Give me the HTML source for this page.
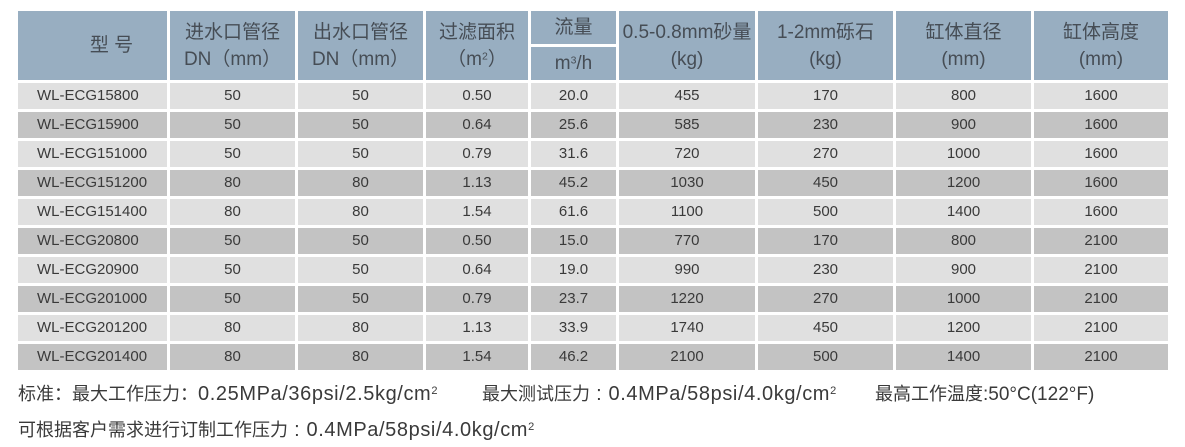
<!DOCTYPE html>
<html><head><meta charset="utf-8">
<style>
html,body{margin:0;padding:0;background:#fff;}
body{width:1185px;height:447px;position:relative;overflow:hidden;font-family:"Liberation Sans","Noto Sans CJK SC",sans-serif;}
.c{position:absolute;display:flex;align-items:center;justify-content:center;text-align:center;box-sizing:border-box;}
.c>span{display:block;}
.h{background:#98aec1;color:#464d55;font-size:19px;line-height:27px;}
.l{background:#e0e0e0;color:#3a3a3a;font-size:15px;}
.d{background:#c3c3c3;color:#3a3a3a;font-size:15px;}
.m{justify-content:flex-start;padding-left:19px;}
.f{position:absolute;font-size:18px;color:#3a3a3a;white-space:nowrap;line-height:22px;}
.f .lt{font-size:20px;letter-spacing:0.6px;}
sup{font-size:0.55em;vertical-align:0.55em;line-height:0;position:static;}
</style></head><body>
<div class="c h" style="left:18px;top:11px;width:149px;height:69px;padding-left:38px;"><span>型&nbsp;号</span></div>
<div class="c h" style="left:170px;top:11px;width:125px;height:69px;"><span>进水口管径<br>DN（mm）</span></div>
<div class="c h" style="left:298px;top:11px;width:125px;height:69px;"><span>出水口管径<br>DN（mm）</span></div>
<div class="c h" style="left:426px;top:11px;width:102px;height:69px;"><span>过滤面积<br>（m<sup>2</sup>）</span></div>
<div class="c h" style="left:531px;top:11px;width:85px;height:33px;"><span>流量</span></div>
<div class="c h" style="left:531px;top:46.5px;width:85px;height:33.5px;"><span>m<sup>3</sup>/h</span></div>
<div class="c h" style="left:619px;top:11px;width:136px;height:69px;"><span>0.5-0.8mm砂量<br>(kg)</span></div>
<div class="c h" style="left:758px;top:11px;width:135px;height:69px;"><span>1-2mm砾石<br>(kg)</span></div>
<div class="c h" style="left:896px;top:11px;width:135px;height:69px;"><span>缸体直径<br>(mm)</span></div>
<div class="c h" style="left:1034px;top:11px;width:134px;height:69px;"><span>缸体高度<br>(mm)</span></div>

<!-- rows -->
<div class="c l m" style="left:18px;top:82.5px;width:149px;height:26.5px;">WL-ECG15800</div><div class="c l" style="left:170px;top:82.5px;width:125px;height:26.5px;">50</div><div class="c l" style="left:298px;top:82.5px;width:125px;height:26.5px;">50</div><div class="c l" style="left:426px;top:82.5px;width:102px;height:26.5px;">0.50</div><div class="c l" style="left:531px;top:82.5px;width:85px;height:26.5px;">20.0</div><div class="c l" style="left:619px;top:82.5px;width:136px;height:26.5px;">455</div><div class="c l" style="left:758px;top:82.5px;width:135px;height:26.5px;">170</div><div class="c l" style="left:896px;top:82.5px;width:135px;height:26.5px;">800</div><div class="c l" style="left:1034px;top:82.5px;width:134px;height:26.5px;">1600</div>

<div class="c d m" style="left:18px;top:111.5px;width:149px;height:26.5px;">WL-ECG15900</div><div class="c d" style="left:170px;top:111.5px;width:125px;height:26.5px;">50</div><div class="c d" style="left:298px;top:111.5px;width:125px;height:26.5px;">50</div><div class="c d" style="left:426px;top:111.5px;width:102px;height:26.5px;">0.64</div><div class="c d" style="left:531px;top:111.5px;width:85px;height:26.5px;">25.6</div><div class="c d" style="left:619px;top:111.5px;width:136px;height:26.5px;">585</div><div class="c d" style="left:758px;top:111.5px;width:135px;height:26.5px;">230</div><div class="c d" style="left:896px;top:111.5px;width:135px;height:26.5px;">900</div><div class="c d" style="left:1034px;top:111.5px;width:134px;height:26.5px;">1600</div>

<div class="c l m" style="left:18px;top:140.5px;width:149px;height:26.5px;">WL-ECG151000</div><div class="c l" style="left:170px;top:140.5px;width:125px;height:26.5px;">50</div><div class="c l" style="left:298px;top:140.5px;width:125px;height:26.5px;">50</div><div class="c l" style="left:426px;top:140.5px;width:102px;height:26.5px;">0.79</div><div class="c l" style="left:531px;top:140.5px;width:85px;height:26.5px;">31.6</div><div class="c l" style="left:619px;top:140.5px;width:136px;height:26.5px;">720</div><div class="c l" style="left:758px;top:140.5px;width:135px;height:26.5px;">270</div><div class="c l" style="left:896px;top:140.5px;width:135px;height:26.5px;">1000</div><div class="c l" style="left:1034px;top:140.5px;width:134px;height:26.5px;">1600</div>

<div class="c d m" style="left:18px;top:169.5px;width:149px;height:26.5px;">WL-ECG151200</div><div class="c d" style="left:170px;top:169.5px;width:125px;height:26.5px;">80</div><div class="c d" style="left:298px;top:169.5px;width:125px;height:26.5px;">80</div><div class="c d" style="left:426px;top:169.5px;width:102px;height:26.5px;">1.13</div><div class="c d" style="left:531px;top:169.5px;width:85px;height:26.5px;">45.2</div><div class="c d" style="left:619px;top:169.5px;width:136px;height:26.5px;">1030</div><div class="c d" style="left:758px;top:169.5px;width:135px;height:26.5px;">450</div><div class="c d" style="left:896px;top:169.5px;width:135px;height:26.5px;">1200</div><div class="c d" style="left:1034px;top:169.5px;width:134px;height:26.5px;">1600</div>

<div class="c l m" style="left:18px;top:198.5px;width:149px;height:26.5px;">WL-ECG151400</div><div class="c l" style="left:170px;top:198.5px;width:125px;height:26.5px;">80</div><div class="c l" style="left:298px;top:198.5px;width:125px;height:26.5px;">80</div><div class="c l" style="left:426px;top:198.5px;width:102px;height:26.5px;">1.54</div><div class="c l" style="left:531px;top:198.5px;width:85px;height:26.5px;">61.6</div><div class="c l" style="left:619px;top:198.5px;width:136px;height:26.5px;">1100</div><div class="c l" style="left:758px;top:198.5px;width:135px;height:26.5px;">500</div><div class="c l" style="left:896px;top:198.5px;width:135px;height:26.5px;">1400</div><div class="c l" style="left:1034px;top:198.5px;width:134px;height:26.5px;">1600</div>

<div class="c d m" style="left:18px;top:227.5px;width:149px;height:26.5px;">WL-ECG20800</div><div class="c d" style="left:170px;top:227.5px;width:125px;height:26.5px;">50</div><div class="c d" style="left:298px;top:227.5px;width:125px;height:26.5px;">50</div><div class="c d" style="left:426px;top:227.5px;width:102px;height:26.5px;">0.50</div><div class="c d" style="left:531px;top:227.5px;width:85px;height:26.5px;">15.0</div><div class="c d" style="left:619px;top:227.5px;width:136px;height:26.5px;">770</div><div class="c d" style="left:758px;top:227.5px;width:135px;height:26.5px;">170</div><div class="c d" style="left:896px;top:227.5px;width:135px;height:26.5px;">800</div><div class="c d" style="left:1034px;top:227.5px;width:134px;height:26.5px;">2100</div>

<div class="c l m" style="left:18px;top:256.5px;width:149px;height:26.5px;">WL-ECG20900</div><div class="c l" style="left:170px;top:256.5px;width:125px;height:26.5px;">50</div><div class="c l" style="left:298px;top:256.5px;width:125px;height:26.5px;">50</div><div class="c l" style="left:426px;top:256.5px;width:102px;height:26.5px;">0.64</div><div class="c l" style="left:531px;top:256.5px;width:85px;height:26.5px;">19.0</div><div class="c l" style="left:619px;top:256.5px;width:136px;height:26.5px;">990</div><div class="c l" style="left:758px;top:256.5px;width:135px;height:26.5px;">230</div><div class="c l" style="left:896px;top:256.5px;width:135px;height:26.5px;">900</div><div class="c l" style="left:1034px;top:256.5px;width:134px;height:26.5px;">2100</div>

<div class="c d m" style="left:18px;top:285.5px;width:149px;height:26.5px;">WL-ECG201000</div><div class="c d" style="left:170px;top:285.5px;width:125px;height:26.5px;">50</div><div class="c d" style="left:298px;top:285.5px;width:125px;height:26.5px;">50</div><div class="c d" style="left:426px;top:285.5px;width:102px;height:26.5px;">0.79</div><div class="c d" style="left:531px;top:285.5px;width:85px;height:26.5px;">23.7</div><div class="c d" style="left:619px;top:285.5px;width:136px;height:26.5px;">1220</div><div class="c d" style="left:758px;top:285.5px;width:135px;height:26.5px;">270</div><div class="c d" style="left:896px;top:285.5px;width:135px;height:26.5px;">1000</div><div class="c d" style="left:1034px;top:285.5px;width:134px;height:26.5px;">2100</div>

<div class="c l m" style="left:18px;top:314.5px;width:149px;height:26.5px;">WL-ECG201200</div><div class="c l" style="left:170px;top:314.5px;width:125px;height:26.5px;">80</div><div class="c l" style="left:298px;top:314.5px;width:125px;height:26.5px;">80</div><div class="c l" style="left:426px;top:314.5px;width:102px;height:26.5px;">1.13</div><div class="c l" style="left:531px;top:314.5px;width:85px;height:26.5px;">33.9</div><div class="c l" style="left:619px;top:314.5px;width:136px;height:26.5px;">1740</div><div class="c l" style="left:758px;top:314.5px;width:135px;height:26.5px;">450</div><div class="c l" style="left:896px;top:314.5px;width:135px;height:26.5px;">1200</div><div class="c l" style="left:1034px;top:314.5px;width:134px;height:26.5px;">2100</div>

<div class="c d m" style="left:18px;top:343.5px;width:149px;height:26.5px;">WL-ECG201400</div><div class="c d" style="left:170px;top:343.5px;width:125px;height:26.5px;">80</div><div class="c d" style="left:298px;top:343.5px;width:125px;height:26.5px;">80</div><div class="c d" style="left:426px;top:343.5px;width:102px;height:26.5px;">1.54</div><div class="c d" style="left:531px;top:343.5px;width:85px;height:26.5px;">46.2</div><div class="c d" style="left:619px;top:343.5px;width:136px;height:26.5px;">2100</div><div class="c d" style="left:758px;top:343.5px;width:135px;height:26.5px;">500</div><div class="c d" style="left:896px;top:343.5px;width:135px;height:26.5px;">1400</div><div class="c d" style="left:1034px;top:343.5px;width:134px;height:26.5px;">2100</div>

<!-- footer -->
<div class="f" style="left:18px;top:383px;">标准：最大工作压力：<span class="lt">0.25MPa/36psi/2.5kg/cm<sup>2</sup></span></div>
<div class="f" style="left:482px;top:383px;">最大测试压力<span class="lt"> : 0.4MPa/58psi/4.0kg/cm<sup>2</sup></span></div>
<div class="f" style="left:875px;top:383px;">最高工作温度<span style="font-size:19px;">:50°C(122°F)</span></div>
<div class="f" style="left:18px;top:419px;">可根据客户需求进行订制工作压力<span class="lt"> : 0.4MPa/58psi/4.0kg/cm<sup>2</sup></span></div>
</body></html>
